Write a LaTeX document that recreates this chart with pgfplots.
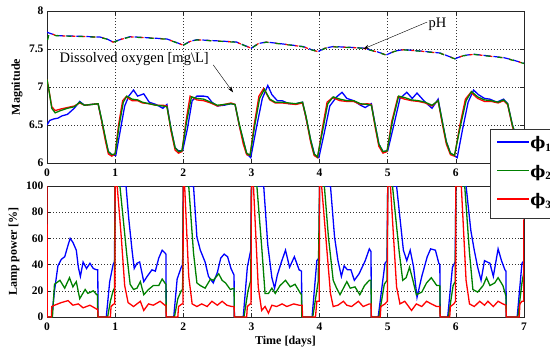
\documentclass[border=0pt]{standalone}
\usepackage{pgfplots}
\pgfplotsset{compat=1.18}
\usepackage{fontspec}
\setmainfont{Liberation Serif}
\newfontfamily\dvs{DejaVu Serif}
\usetikzlibrary{arrows.meta}
\definecolor{mblue}{rgb}{0,0,1}
\definecolor{mgreen}{rgb}{0,0.5,0}
\definecolor{mred}{rgb}{1,0,0}
\pgfplotsset{
  mystyle/.style={
    scale only axis, width=477pt, xmin=0, xmax=7,
    xtick={0,1,2,3,4,5,6,7},
    tick align=inside, major tick length=4pt,
    axis line style={black!85, line width=0.6pt},
    tick style={black!85, line width=0.5pt},
    grid=major, major grid style={black!80, line width=0.5pt, dash pattern=on 1pt off 2pt},
    /pgf/number format/assume math mode=true,
    tick label style={font=\fontsize{11.5}{12}\selectfont\bfseries},
    label style={font=\fontsize{12}{13}\selectfont\bfseries},
    xticklabel style={yshift=-2pt},
  }
}
\begin{document}
\begin{tikzpicture}[x=1pt,y=1pt]
\begin{axis}[mystyle, height=152pt, at={(47pt,-163pt)}, anchor=south west,
  ymin=6, ymax=8, ytick={6,6.5,7,7.5,8},
  yticklabels={6,6.5,7,7.5,8},
  ylabel={Magnitude},
  ylabel style={at={(axis description cs:-0.063,0.5)}, anchor=center},
]
% pH
\addplot[mblue, line width=1.2pt, dash pattern=on 7pt off 3pt] coordinates {
(0,7.72)(0.14,7.677)(0.5,7.667)(0.78,7.657)(0.88,7.632)(0.97,7.592)(1.1,7.632)(1.22,7.662)(1.5,7.647)(1.76,7.632)(1.88,7.592)(2.0,7.552)(2.1,7.602)(2.2,7.622)(2.5,7.607)(2.78,7.592)(2.9,7.547)(3.0,7.512)(3.1,7.572)(3.22,7.592)(3.5,7.562)(3.76,7.532)(3.88,7.492)(3.98,7.467)(4.08,7.512)(4.2,7.532)(4.45,7.522)(4.64,7.512)(4.85,7.462)(4.98,7.422)(5.1,7.472)(5.23,7.492)(5.5,7.472)(5.77,7.447)(5.9,7.402)(5.99,7.372)(6.1,7.412)(6.26,7.432)(6.5,7.407)(6.7,7.387)(6.85,7.352)(7.0,7.312)};
\addplot[mred, line width=1.2pt, dash pattern=on 3pt off 7pt, dash phase=4pt] coordinates {
(0,7.72)(0.14,7.675)(0.5,7.665)(0.78,7.655)(0.88,7.63)(0.97,7.59)(1.1,7.63)(1.22,7.66)(1.5,7.645)(1.76,7.63)(1.88,7.59)(2.0,7.55)(2.1,7.6)(2.2,7.62)(2.5,7.605)(2.78,7.59)(2.9,7.545)(3.0,7.51)(3.1,7.57)(3.22,7.59)(3.5,7.56)(3.76,7.53)(3.88,7.49)(3.98,7.465)(4.08,7.51)(4.2,7.53)(4.45,7.52)(4.64,7.51)(4.85,7.46)(4.98,7.42)(5.1,7.47)(5.23,7.49)(5.5,7.47)(5.77,7.445)(5.9,7.4)(5.99,7.37)(6.1,7.41)(6.26,7.43)(6.5,7.405)(6.7,7.385)(6.85,7.35)(7.0,7.31)};
\addplot[mgreen, line width=1.2pt, dash pattern=on 5pt off 7pt, dash phase=9pt] coordinates {
(0,7.58)(0.03,7.70)(0.14,7.674)(0.5,7.664)(0.78,7.654)(0.88,7.629)(0.97,7.589)(1.1,7.629)(1.22,7.659)(1.5,7.644)(1.76,7.629)(1.88,7.589)(2.0,7.549)(2.1,7.599)(2.2,7.619)(2.5,7.604)(2.78,7.589)(2.9,7.544)(3.0,7.509)(3.1,7.569)(3.22,7.589)(3.5,7.559)(3.76,7.529)(3.88,7.489)(3.98,7.464)(4.08,7.509)(4.2,7.529)(4.45,7.519)(4.64,7.509)(4.85,7.459)(4.98,7.419)(5.1,7.469)(5.23,7.489)(5.5,7.469)(5.77,7.444)(5.9,7.399)(5.99,7.369)(6.1,7.409)(6.26,7.429)(6.5,7.404)(6.7,7.384)(6.85,7.349)(7.0,7.309)};
% DO
\addplot[mblue, line width=1.3pt] coordinates {
(0,6.50)(0.04,6.56)(0.1,6.58)(0.16,6.59)(0.22,6.62)(0.3,6.64)(0.4,6.72)(0.48,6.81)(0.55,6.76)(0.65,6.77)(0.75,6.78)(0.8,6.57)(0.86,6.3)(0.9,6.15)(0.95,6.11)(1.01,6.1)(1.07,6.4)(1.14,6.75)(1.2,6.88)(1.27,6.96)(1.33,6.88)(1.42,6.91)(1.5,6.8)(1.6,6.77)(1.66,6.74)(1.7,6.72)(1.76,6.77)(1.82,6.45)(1.88,6.2)(1.93,6.16)(1.99,6.16)(2.06,6.45)(2.13,6.82)(2.2,6.88)(2.3,6.88)(2.36,6.87)(2.42,6.8)(2.5,6.75)(2.6,6.76)(2.7,6.78)(2.76,6.77)(2.82,6.5)(2.88,6.3)(2.93,6.12)(2.99,6.07)(3.07,6.45)(3.16,6.85)(3.24,7.02)(3.3,6.9)(3.38,6.82)(3.45,6.82)(3.55,6.78)(3.65,6.78)(3.75,6.8)(3.8,6.6)(3.87,6.3)(3.93,6.1)(3.99,6.07)(4.07,6.4)(4.15,6.75)(4.25,6.87)(4.33,6.93)(4.4,6.85)(4.5,6.82)(4.6,6.76)(4.67,6.73)(4.76,6.78)(4.82,6.48)(4.87,6.25)(4.93,6.15)(5.0,6.16)(5.09,6.5)(5.18,6.85)(5.28,6.93)(5.36,6.85)(5.43,6.92)(5.52,6.83)(5.6,6.76)(5.65,6.72)(5.74,6.84)(5.8,6.55)(5.86,6.28)(5.92,6.13)(6.02,6.07)(6.1,6.45)(6.18,6.8)(6.26,6.96)(6.33,6.9)(6.42,6.85)(6.5,6.84)(6.6,6.8)(6.7,6.84)(6.76,6.78)(6.83,6.5)(6.9,6.3)(6.97,6.18)(7,6.2)};
\addplot[mred, line width=1.3pt] coordinates {
(0,7.10)(0.03,6.95)(0.07,6.74)(0.12,6.69)(0.2,6.71)(0.3,6.73)(0.4,6.75)(0.48,6.79)(0.55,6.76)(0.65,6.77)(0.75,6.78)(0.8,6.56)(0.86,6.28)(0.9,6.12)(0.95,6.09)(1.0,6.12)(1.05,6.5)(1.11,6.82)(1.16,6.87)(1.25,6.82)(1.33,6.82)(1.4,6.79)(1.5,6.78)(1.6,6.76)(1.7,6.76)(1.76,6.75)(1.82,6.42)(1.88,6.17)(1.93,6.13)(1.98,6.15)(2.04,6.55)(2.1,6.88)(2.2,6.83)(2.3,6.82)(2.4,6.79)(2.5,6.75)(2.6,6.77)(2.7,6.79)(2.76,6.77)(2.82,6.5)(2.88,6.25)(2.93,6.11)(2.98,6.10)(3.04,6.5)(3.11,6.88)(3.18,6.98)(3.27,6.83)(3.35,6.79)(3.45,6.79)(3.55,6.78)(3.65,6.77)(3.75,6.79)(3.8,6.6)(3.87,6.27)(3.92,6.10)(3.97,6.07)(4.04,6.45)(4.11,6.8)(4.19,6.86)(4.3,6.82)(4.4,6.81)(4.5,6.81)(4.6,6.77)(4.7,6.78)(4.76,6.77)(4.82,6.45)(4.87,6.22)(4.93,6.13)(4.99,6.15)(5.06,6.55)(5.15,6.87)(5.25,6.84)(5.35,6.82)(5.45,6.81)(5.55,6.79)(5.65,6.75)(5.74,6.82)(5.8,6.52)(5.86,6.25)(5.92,6.11)(5.98,6.09)(6.06,6.5)(6.14,6.84)(6.22,6.93)(6.32,6.85)(6.42,6.81)(6.52,6.81)(6.62,6.79)(6.7,6.82)(6.76,6.77)(6.83,6.48)(6.9,6.28)(6.97,6.17)(7,6.2)};
\addplot[mgreen, line width=1.3pt] coordinates {
(0,7.10)(0.03,6.95)(0.07,6.72)(0.12,6.66)(0.2,6.69)(0.3,6.72)(0.4,6.74)(0.48,6.80)(0.55,6.76)(0.65,6.77)(0.75,6.78)(0.8,6.58)(0.86,6.32)(0.9,6.15)(0.95,6.11)(1.0,6.12)(1.06,6.5)(1.12,6.8)(1.17,6.88)(1.25,6.84)(1.33,6.83)(1.4,6.8)(1.5,6.78)(1.6,6.76)(1.7,6.75)(1.76,6.74)(1.82,6.45)(1.88,6.2)(1.93,6.15)(1.98,6.16)(2.05,6.55)(2.12,6.87)(2.2,6.85)(2.3,6.84)(2.4,6.8)(2.5,6.76)(2.6,6.77)(2.7,6.78)(2.76,6.77)(2.82,6.52)(2.88,6.3)(2.93,6.13)(2.98,6.1)(3.05,6.5)(3.12,6.85)(3.19,6.97)(3.27,6.84)(3.35,6.8)(3.45,6.8)(3.55,6.79)(3.65,6.78)(3.75,6.8)(3.8,6.62)(3.87,6.3)(3.92,6.12)(3.97,6.08)(4.05,6.45)(4.12,6.78)(4.2,6.87)(4.3,6.84)(4.4,6.82)(4.5,6.82)(4.6,6.78)(4.7,6.77)(4.76,6.76)(4.82,6.48)(4.87,6.25)(4.93,6.15)(4.99,6.16)(5.07,6.55)(5.16,6.88)(5.25,6.86)(5.35,6.83)(5.45,6.82)(5.55,6.8)(5.65,6.76)(5.74,6.82)(5.8,6.55)(5.86,6.28)(5.92,6.13)(5.98,6.1)(6.07,6.5)(6.15,6.82)(6.23,6.94)(6.32,6.87)(6.42,6.83)(6.52,6.82)(6.62,6.8)(6.7,6.83)(6.76,6.78)(6.83,6.5)(6.9,6.3)(6.97,6.18)(7,6.2)};
\node[font=\fontsize{14.5}{15}\selectfont] at (axis cs:1.28,7.37) {Dissolved oxygen [mg\textbackslash L]};
\draw[-{Stealth[length=6pt,width=4pt]}, line width=0.4pt] (axis cs:2.44,7.29) -- (axis cs:2.73,6.93);
\node[font=\fontsize{14.5}{15}\selectfont] at (axis cs:5.73,7.82) {pH};
\draw[-{Stealth[length=6pt,width=4pt]}, line width=0.4pt] (axis cs:5.58,7.855) -- (axis cs:4.64,7.5);
\end{axis}
\begin{axis}[mystyle, height=131pt, at={(47pt,-317pt)}, anchor=south west,
  ymin=0, ymax=100, ytick={0,20,40,60,80,100},
  ylabel={Lamp power [\%]}, xlabel={Time [days]},
  ylabel style={at={(axis description cs:-0.069,0.5)}, anchor=center},
  xlabel style={at={(axis description cs:0.5,-0.19)}, anchor=center},
  legend style={at={(axis description cs:0.9287,1.435)}, anchor=north west,
    draw=black!80, line width=0.6pt, fill=white,
    font=\fontsize{16}{16}\selectfont\bfseries,
    inner xsep=6pt, inner ysep=8pt, row sep=12.5pt,
    nodes={inner sep=0.5pt, text height=11pt, text depth=4pt}},
  legend image code/.code={\draw[#1, solid, line width=1.5pt] (0pt,3.5pt) -- (32pt,3.5pt);},
  legend cell align=left,
]
\addplot[mblue, line width=1.3pt] coordinates {
(0,0)(0.07,0)(0.11,20)(0.16,39)(0.21,44)(0.26,46)(0.31,55)(0.34,60)(0.38,57)(0.43,51)(0.46,38)(0.49,31)(0.53,42)(0.58,37)(0.63,41)(0.68,37)(0.73,36)(0.745,36)(0.75,0)(0.87,0)(0.92,27)(0.97,40)(0.99,42)(1.0,100)(1.16,100)(1.2,75)(1.25,50)(1.28,37)(1.32,41)(1.36,42)(1.42,27)(1.47,31)(1.54,36)(1.59,35)(1.64,45)(1.69,51)(1.73,49)(1.745,48)(1.75,0)(1.86,0)(1.91,29)(1.97,38)(1.99,40)(2.0,100)(2.15,100)(2.2,61)(2.25,51)(2.32,42)(2.37,31)(2.44,26)(2.5,34)(2.55,45)(2.6,48)(2.65,46)(2.7,37)(2.745,32)(2.75,0)(2.88,0)(2.94,38)(2.99,51)(3.0,100)(3.18,100)(3.24,55)(3.3,30)(3.34,22)(3.38,32)(3.44,42)(3.5,51)(3.56,38)(3.63,46)(3.7,36)(3.735,35)(3.74,0)(3.89,0)(3.96,43)(3.99,45)(4.0,100)(4.16,100)(4.22,61)(4.27,43)(4.32,31)(4.36,39)(4.41,36)(4.46,36)(4.51,28)(4.58,33)(4.67,43)(4.73,52)(4.755,50)(4.76,0)(4.86,0)(4.96,41)(4.99,43)(5.0,100)(5.13,100)(5.23,51)(5.28,43)(5.33,51)(5.38,38)(5.43,15)(5.5,31)(5.58,46)(5.63,52)(5.7,51)(5.75,41)(5.765,40)(5.77,0)(5.88,0)(5.95,38)(5.99,42)(6.0,100)(6.15,100)(6.22,66)(6.27,51)(6.32,38)(6.37,28)(6.42,43)(6.5,41)(6.55,31)(6.62,52)(6.67,43)(6.72,36)(6.735,35)(6.74,0)(6.9,0)(6.97,41)(7.0,43)};
\addlegendentry{{\dvs ϕ}\textsubscript{1}}
\addplot[mgreen, line width=1.3pt] coordinates {
(0,0)(0.08,0)(0.09,9)(0.11,25)(0.19,28)(0.26,22)(0.33,30)(0.38,23)(0.43,27)(0.48,14)(0.56,21)(0.6,18)(0.68,20)(0.73,17)(0.74,17)(0.745,0)(0.89,0)(0.93,12)(0.97,20)(0.99,22)(1.0,100)(1.07,100)(1.12,74)(1.17,48)(1.22,25)(1.27,21)(1.32,22)(1.37,27)(1.42,17)(1.49,21)(1.56,24)(1.64,24)(1.69,29)(1.73,26)(1.745,25)(1.75,0)(1.87,0)(1.92,14)(1.97,20)(1.99,21)(2.0,100)(2.08,100)(2.15,49)(2.2,26)(2.25,24)(2.32,22)(2.4,29)(2.44,28)(2.52,33)(2.57,28)(2.62,26)(2.69,21)(2.745,22)(2.75,0)(2.89,0)(2.95,20)(2.99,28)(3.0,100)(3.08,100)(3.15,54)(3.2,18)(3.25,18)(3.3,22)(3.35,18)(3.42,24)(3.5,28)(3.57,23)(3.64,25)(3.72,18)(3.735,17)(3.74,0)(3.9,0)(3.98,27)(4.0,100)(4.07,100)(4.13,61)(4.2,28)(4.25,22)(4.3,17)(4.35,22)(4.4,27)(4.45,22)(4.52,23)(4.59,17)(4.66,24)(4.73,28)(4.755,28)(4.76,0)(4.87,0)(4.95,25)(4.99,28)(5.0,100)(5.07,100)(5.17,49)(5.22,28)(5.27,30)(5.32,38)(5.37,28)(5.42,17)(5.5,19)(5.57,26)(5.64,30)(5.72,24)(5.765,24)(5.77,0)(5.89,0)(5.96,24)(5.99,27)(6.0,100)(6.13,100)(6.2,49)(6.25,21)(6.32,19)(6.4,24)(6.45,30)(6.5,24)(6.57,26)(6.62,30)(6.69,24)(6.735,16)(6.74,0)(6.91,0)(6.97,26)(7.0,35)};
\addlegendentry{{\dvs ϕ}\textsubscript{2}}
\addplot[mred, line width=1.3pt] coordinates {
(0,100)(0.005,0)(0.065,0)(0.07,8)(0.11,9)(0.21,11)(0.31,12.5)(0.38,9)(0.46,10)(0.53,7)(0.63,9)(0.73,6)(0.745,6)(0.75,0)(0.93,0)(0.94,8)(0.98,10)(0.995,10)(1.0,100)(1.03,100)(1.09,61)(1.14,24)(1.19,11)(1.27,8)(1.37,12)(1.42,5)(1.49,10)(1.56,9)(1.66,12)(1.73,9)(1.745,9)(1.75,0)(1.92,0)(1.93,8)(1.98,10)(1.995,10)(2.0,100)(2.02,100)(2.08,31)(2.13,10)(2.2,8)(2.27,10)(2.35,8)(2.42,12)(2.5,9)(2.57,12)(2.64,9)(2.71,8)(2.745,8)(2.75,0)(2.93,0)(2.94,8)(2.98,10)(2.995,10)(3.0,100)(3.03,100)(3.1,23)(3.15,5)(3.2,8)(3.25,3)(3.3,9)(3.37,8)(3.45,10)(3.52,8)(3.62,10)(3.7,9)(3.745,9)(3.75,0)(3.94,0)(3.96,12)(3.995,12)(4.0,100)(4.03,100)(4.16,18)(4.2,8)(4.27,9)(4.35,12)(4.4,9)(4.47,8)(4.57,12)(4.64,8)(4.73,10)(4.755,10)(4.76,0)(4.89,0)(4.9,8)(4.96,10)(4.995,12)(5.0,100)(5.04,100)(5.13,23)(5.18,10)(5.25,12)(5.35,5)(5.42,10)(5.5,8)(5.57,12)(5.64,10)(5.72,8)(5.765,8)(5.77,0)(5.91,0)(5.92,8)(5.97,10)(5.995,12)(6.0,100)(6.08,100)(6.15,28)(6.2,10)(6.27,8)(6.35,12)(6.42,9)(6.47,12)(6.55,8)(6.62,12)(6.69,10)(6.735,9)(6.74,0)(6.93,0)(6.94,10)(6.97,12)(6.995,12)(7.0,100)};
\addlegendentry{{\dvs ϕ}\textsubscript{3}}
\end{axis}
\pgfresetboundingbox
\path[use as bounding box] (0,0) rectangle (550,-351);
\end{tikzpicture}
\end{document}
